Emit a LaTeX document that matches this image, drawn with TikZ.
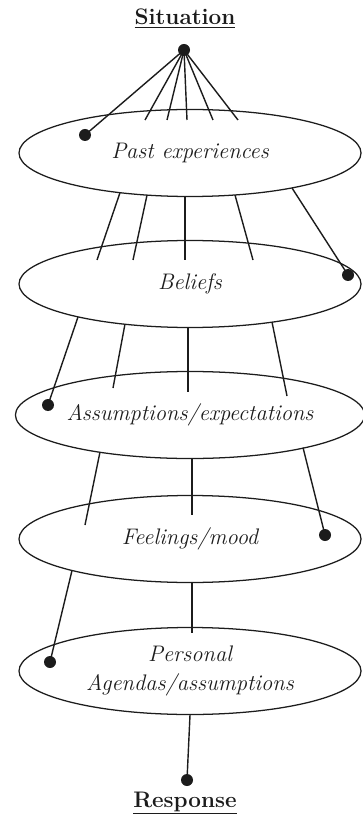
\documentclass[tikz,border=0pt]{standalone}
\usepackage{fontspec}
\usepackage{tikz}
\usetikzlibrary{
    shapes.geometric
}
\definecolor{ink}{RGB}{28,28,28}
\tikzset{
    line cap=round,
    line join=round,
    layer/.style={
        ellipse,
        draw=ink,
        line width=0.9pt,
        inner sep=0pt,
        minimum width=8.55cm,
        minimum height=2.175cm,
        align=center,
        text=ink,
        font=\fontsize{16}{21}\selectfont\itshape
    },
    pin/.style={
        circle,
        fill=ink,
        inner sep=0pt,
        minimum size=0.3cm
    },
    link/.style={
        -,
        draw=ink,
        line width=1pt
    },
    heading/.style={
        font=\fontsize{16}{19}\selectfont\bfseries,
        text=ink,
        inner sep=0pt
    }
}

\begin{document}
\begin{tikzpicture}
\useasboundingbox (0,0) rectangle (9.05,-20.475);

% Situation at the top
\node[heading, anchor=base] (sit) at (4.625, -0.625) {\underline{Situation}};
\node[pin] (sitdot) at (4.6, -1.25) {};

% Filter layers
\node[layer] (past) at (4.75, -3.825) {Past experiences};
\node[layer] (bel) at (4.75, -7.1) {Beliefs};
\node[layer] (ass) at (4.75, -10.375) {Assumptions/expectations};
\node[layer] (feel) at (4.75, -13.475) {Feelings/mood};
\node[layer] (agen) at (4.75, -16.775) {Personal\\Agendas/assumptions};

% Response at the bottom
\node[pin] (resdot) at (4.675, -19.5) {};
\node[heading, anchor=base] (res) at (4.625, -20.175) {\underline{Response}};

% Situation into past experiences
\node[pin] (pastdot) at (2.125, -3.375) {};
\coordinate (p1) at (3.625, -3.0);
\coordinate (p2) at (4.175, -3.0);
\coordinate (p3) at (4.675, -3.0);
\coordinate (p4) at (5.325, -3.0);
\coordinate (p5) at (5.95, -3.0);

\draw[link] (sitdot.center) -- (pastdot.center);
\draw[link] (sitdot.center) -- (p1);
\draw[link] (sitdot.center) -- (p2);
\draw[link] (sitdot.center) -- (p3);
\draw[link] (sitdot.center) -- (p4);
\draw[link] (sitdot.center) -- (p5);

% Past experiences into beliefs
\coordinate (pa1) at (3.0, -4.818);
\coordinate (pa2) at (3.675, -4.878);
\coordinate (pa3) at (4.625, -4.913);
\coordinate (pa4) at (5.875, -4.875);
\coordinate (pa5) at (7.3, -4.7);
\coordinate (b1) at (2.425, -6.5);
\coordinate (b2) at (3.325, -6.5);
\coordinate (b3) at (4.625, -6.5);
\coordinate (b4) at (6.325, -6.5);
\node[pin] (beldot) at (8.7, -6.875) {};

\draw[link] (pa1) -- (b1);
\draw[link] (pa2) -- (b2);
\draw[link] (pa3) -- (b3);
\draw[link] (pa4) -- (b4);
\draw[link] (pa5) -- (beldot.center);

% Beliefs into assumptions
\coordinate (be1) at (1.95, -7.925);
\coordinate (be2) at (3.125, -8.1);
\coordinate (be3) at (4.7, -8.1875);
\coordinate (be4) at (6.8, -8.05);
\node[pin] (assdot) at (1.2, -10.125) {};
\coordinate (a2) at (2.825, -9.7);
\coordinate (a3) at (4.7, -9.8);
\coordinate (a4) at (7.175, -9.9);

\draw[link] (be1) -- (assdot.center);
\draw[link] (be2) -- (a2);
\draw[link] (be3) -- (a3);
\draw[link] (be4) -- (a4);

% Assumptions into feelings
\coordinate (as1) at (2.5, -11.3);
\coordinate (as2) at (4.8, -11.4625);
\coordinate (as3) at (7.575, -11.19);
\coordinate (f1) at (2.125, -13.125);
\coordinate (f2) at (4.8, -12.875);
\node[pin] (feeldot) at (8.125, -13.375) {};

\draw[link] (as1) -- (f1);
\draw[link] (as2) -- (f2);
\draw[link] (as3) -- (feeldot.center);

% Feelings into personal agendas
\coordinate (fe1) at (1.8, -14.2625);
\coordinate (fe2) at (4.8, -14.5625);
\node[pin] (agendot) at (1.25, -16.55) {};
\coordinate (g2) at (4.8, -15.825);

\draw[link] (fe1) -- (agendot.center);
\draw[link] (fe2) -- (g2);

% Personal agendas into response
\draw[link] (agen.south) -- (resdot.center);

\end{tikzpicture}
\end{document}
